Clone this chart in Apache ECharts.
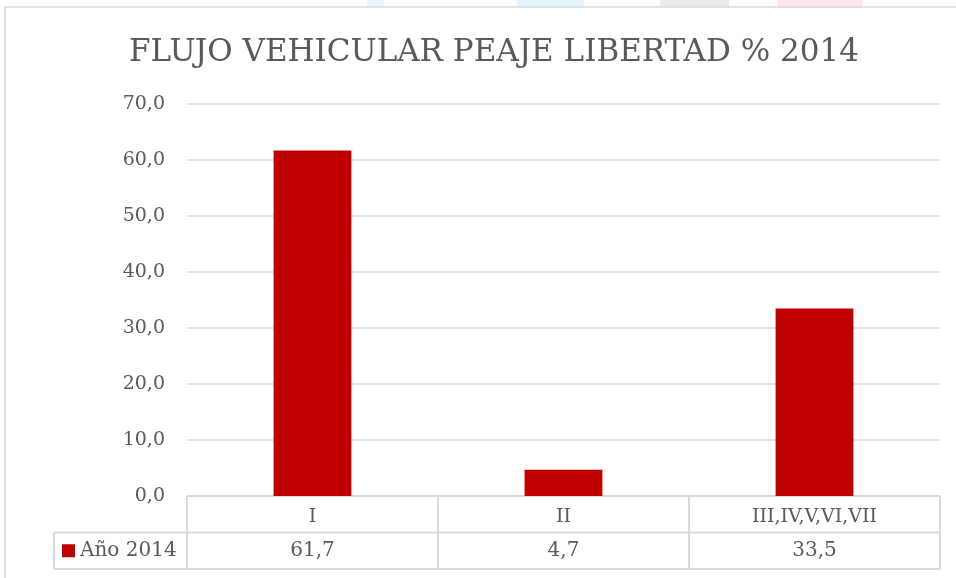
<!DOCTYPE html>
<html>
<head>
<meta charset="utf-8">
<title>Flujo vehicular peaje Libertad 2014</title>
<script src="https://cdn.jsdelivr.net/npm/echarts@6/dist/echarts.min.js"></script>
<style>
  html, body { margin: 0; padding: 0; background: #fff; }
  #chart { width: 956px; height: 578px; }
</style>
</head>
<body>
<div id="chart"></div>
<script>
  // ---- datos ----
  const titleText = 'FLUJO VEHICULAR PEAJE LIBERTAD % 2014';
  const categories = ['I', 'II', 'III,IV,V,VI,VII'];
  const seriesName = 'Año 2014';
  const values = [61.7, 4.7, 33.5];
  const yMin = 0, yMax = 70, yStep = 10;

  // ---- estilo ----
  const C = {
    ink: '#595959',
    grid: '#d9d9d9',
    bar: '#c00000',
    frame: '#d9d9d9'
  };
  const FONT = 'DejaVu Serif';
  const fmt = v => v.toFixed(1).replace('.', ',');

  const chart = echarts.init(document.getElementById('chart'), null, { renderer: 'canvas' });

  chart.setOption({
    backgroundColor: '#fff',
    animation: false,
    title: {
      text: titleText,
      left: 489, top: 32,
      textAlign: 'center',
      textStyle: { color: C.ink, fontFamily: FONT, fontSize: 31, fontWeight: 'normal' }
    },
    grid: { left: 187, right: 16, top: 104, bottom: 82 },
    xAxis: {
      type: 'category',
      data: categories,
      axisLine: { show: false },
      axisTick: { show: false },
      axisLabel: { color: C.ink, fontFamily: FONT, fontSize: 19, margin: 12 }
    },
    yAxis: {
      type: 'value',
      min: yMin, max: yMax, interval: yStep,
      axisLine: { show: false },
      axisTick: { show: false },
      splitLine: { lineStyle: { color: C.grid, width: 1.5 } },
      axisLabel: { color: C.ink, fontFamily: FONT, fontSize: 19, margin: 22, formatter: fmt }
    },
    series: [{
      type: 'bar',
      name: seriesName,
      data: values,
      barWidth: '31%',
      itemStyle: { color: C.bar }
    }]
  });

  // ---- tabla de datos bajo el eje (estilo Excel) ----
  function drawTable() {
    const c0 = chart.convertToPixel({ xAxisIndex: 0 }, 0);
    const c1 = chart.convertToPixel({ xAxisIndex: 0 }, 1);
    const band = c1 - c0;
    const y0 = chart.convertToPixel({ yAxisIndex: 0 }, 0);
    const rowH = 36.5;
    const xL = c0 - band / 2;
    const xR = c0 + band * (categories.length - 0.5);
    const legendL = 54;
    const line = { stroke: C.grid, lineWidth: 2 };
    const els = [];

    // restos del fondo por encima del marco
    [[367, 17, '#eaf4fb'], [517, 67, '#e4f2fb'], [660, 69, '#e9ecea'], [777, 86, '#fde7ea']].forEach(([x, w, f]) => {
      els.push({ type: 'rect', shape: { x: x, y: 0, width: w, height: 7 }, style: { fill: f }, silent: true });
    });

    // marco exterior del gráfico
    els.push({ type: 'rect', shape: { x: 5, y: 7, width: 1000, height: 700 }, style: { fill: 'none', stroke: C.frame, lineWidth: 1.5 }, silent: true });

    // líneas horizontales
    els.push({ type: 'line', shape: { x1: xL, y1: y0, x2: xR, y2: y0 }, style: line });
    els.push({ type: 'line', shape: { x1: legendL, y1: y0 + rowH, x2: xR, y2: y0 + rowH }, style: line });
    els.push({ type: 'line', shape: { x1: legendL, y1: y0 + 2 * rowH, x2: xR, y2: y0 + 2 * rowH }, style: line });
    // líneas verticales
    for (let i = 0; i <= categories.length; i++) {
      const x = xL + i * band;
      els.push({ type: 'line', shape: { x1: x, y1: y0, x2: x, y2: y0 + 2 * rowH }, style: line });
    }
    els.push({ type: 'line', shape: { x1: legendL, y1: y0 + rowH, x2: legendL, y2: y0 + 2 * rowH }, style: line });

    // leyenda
    const ly = y0 + rowH * 1.5;
    els.push({ type: 'rect', shape: { x: 62, y: ly - 6.5, width: 13, height: 13 }, style: { fill: C.bar } });
    els.push({ type: 'text', x: 80, y: ly, style: { text: seriesName, fill: C.ink, font: `20px "${FONT}"`, textVerticalAlign: 'middle' } });

    // valores
    values.forEach((v, i) => {
      els.push({
        type: 'text',
        x: c0 + i * band, y: ly,
        style: { text: fmt(v), fill: C.ink, font: `20px "${FONT}"`, textAlign: 'center', textVerticalAlign: 'middle' }
      });
    });

    chart.setOption({ graphic: { elements: els } });
  }
  drawTable();
</script>
</body>
</html>
